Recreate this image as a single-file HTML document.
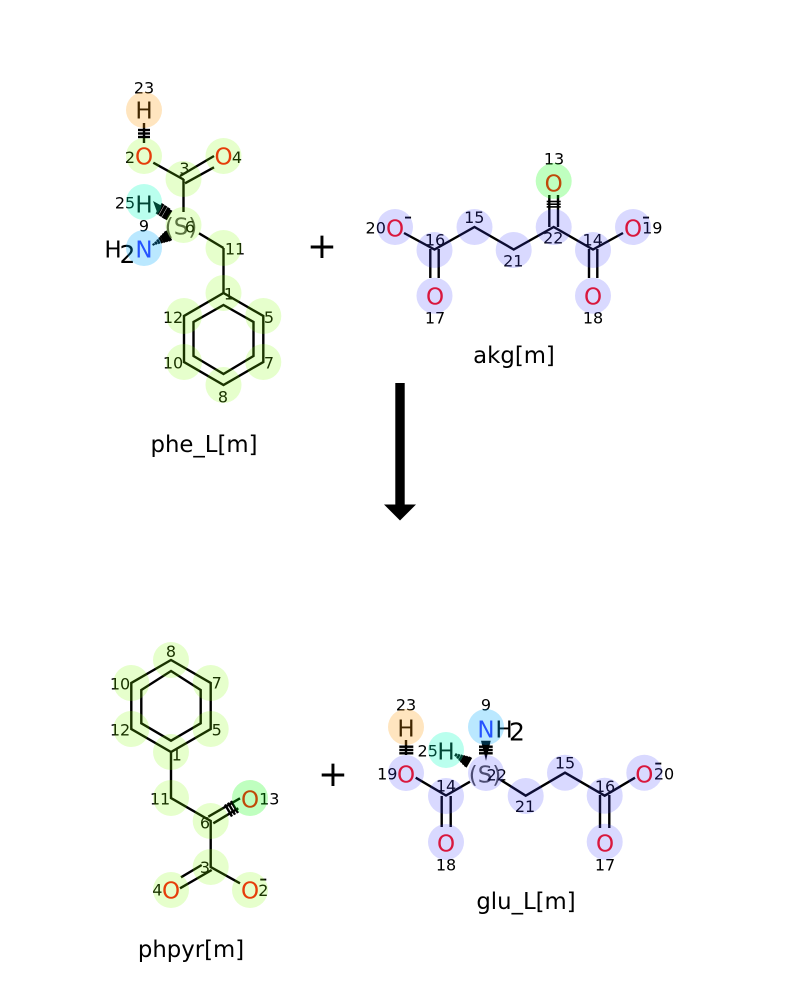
<!DOCTYPE html>
<html>
<head>
<meta charset="utf-8">
<style>
html,body{margin:0;padding:0;background:#fff;}
svg{display:block;}
text{font-family:"DejaVu Sans",sans-serif;}
.b line,.b polyline,.b polygon{stroke:#000;stroke-width:2.4;fill:none;stroke-linejoin:miter;}
.b .h line{stroke-width:3.2;}
.b .f line{stroke-width:1.6;}
.n{font-size:16px;text-anchor:middle;fill:#000;}
.a{font-size:23px;text-anchor:middle;}
.o{fill:#ff0d0d;}
.bl{fill:#3333ff;}
.k{fill:#000;}
.s{fill:#505050;}
.t{font-size:22.8px;text-anchor:middle;fill:#000;}
.y circle{fill:#80ff00;opacity:.2;}
.p circle{fill:#4040ff;opacity:.2;}
</style>
</head>
<body>
<svg width="800" height="1000" viewBox="0 0 800 1000" xmlns="http://www.w3.org/2000/svg">
<rect width="800" height="1000" fill="#fff"/>
<g class="b">
<!-- phe -->
<line x1="144" y1="123" x2="144" y2="143"/>
<line x1="138" y1="130" x2="150" y2="130"/><line x1="138" y1="133.5" x2="150" y2="133.5"/><line x1="138" y1="137" x2="150" y2="137"/>
<line x1="153.3" y1="162.7" x2="183.5" y2="179.5"/>
<line x1="180" y1="176" x2="214" y2="156"/><line x1="185" y1="183.3" x2="214" y2="167.3"/>
<line x1="183.5" y1="179" x2="183.5" y2="212"/>
<line x1="199" y1="233.3" x2="223.5" y2="248"/>
<line x1="223.5" y1="248" x2="223.5" y2="293"/>
<polygon points="223.5,293 263.3,316 263.3,362 223.5,385 184,362 184,316"/>
<polygon points="223.5,305 253.5,322 253.5,356 223.5,374 193.5,356 193.5,322"/>
<polygon points="153,201 162,206 157,212" style="fill:#000;stroke:none"/>
<g class="h">
<line x1="157" y1="214.2" x2="163" y2="203.8"/><line x1="160" y1="216.2" x2="166" y2="205.8"/><line x1="163" y1="218.2" x2="169" y2="207.8"/><line x1="165.5" y1="219.5" x2="171" y2="210"/>
<line x1="165.2" y1="231.2" x2="170.8" y2="240.8"/>
<line x1="163.2" y1="233.2" x2="168" y2="241.6"/>
<line x1="161.2" y1="235.3" x2="165.2" y2="242.3"/>
</g>
<line x1="159.2" y1="237.4" x2="162.4" y2="243"/>
<line x1="157.2" y1="239.5" x2="159.6" y2="243.7"/>
<line x1="155.2" y1="241.6" x2="156.8" y2="244.4"/>
<line x1="153.1" y1="243.5" x2="154.1" y2="245.3"/>
<!-- akg -->
<polyline points="404,233 434.5,249.5 474.5,227 513.7,249.5 553.7,227 593,249.5 623,233"/>
<line x1="430.3" y1="249" x2="430.3" y2="278"/><line x1="438.7" y1="249" x2="438.7" y2="278"/>
<line x1="589" y1="249" x2="589" y2="278"/><line x1="597.3" y1="249" x2="597.3" y2="278"/>
<line x1="549.3" y1="195" x2="549.3" y2="227"/><line x1="558" y1="195" x2="558" y2="227"/>
<g class="f">
<line x1="546.7" y1="201.5" x2="560.7" y2="201.5"/><line x1="546.7" y1="204.2" x2="560.7" y2="204.2"/><line x1="546.7" y1="206.9" x2="560.7" y2="206.9"/>
</g>
<!-- phpyr -->
<polygon points="171,660 210.7,683 210.7,729 171,752 131.3,729 131.3,683"/>
<polygon points="171,671 200.7,690 200.7,723.3 171,740.7 141.3,723.3 141.3,690"/>
<polyline points="171,752 171,798 210.7,821 210.7,867 240,883.3"/>
<line x1="208.3" y1="816.7" x2="240" y2="798.3"/><line x1="213.3" y1="823.3" x2="238.3" y2="808.3"/>
<line x1="225" y1="804.5" x2="232" y2="816.5"/><line x1="228" y1="802.7" x2="235" y2="814.7"/><line x1="231" y1="801" x2="238" y2="813"/>
<line x1="201.7" y1="865" x2="181" y2="877.3"/><line x1="211.7" y1="870" x2="180" y2="888.3"/>
<!-- glu -->
<polyline points="415.7,777.7 446,795.5 470,781.7"/>
<polyline points="500.7,780 525.7,795.7 565,772.7 604.7,795.7 635,777.7"/>
<line x1="441.7" y1="796" x2="441.7" y2="827"/><line x1="450.7" y1="796" x2="450.7" y2="827"/>
<line x1="600" y1="795" x2="600" y2="828"/><line x1="609.3" y1="795" x2="609.3" y2="828"/>
<line x1="406" y1="740" x2="406" y2="755"/>
<line x1="399.3" y1="746.7" x2="413.3" y2="746.7"/><line x1="399.3" y1="750" x2="413.3" y2="750"/><line x1="399.3" y1="753.3" x2="413.3" y2="753.3"/>
<polygon points="481,740.7 490.7,740.7 486,760.7" style="fill:#000;stroke:none"/>
<line x1="479" y1="746.7" x2="492.7" y2="746.7"/><line x1="479" y1="750" x2="492.7" y2="750"/><line x1="479" y1="753.3" x2="492.7" y2="753.3"/>
<g class="h">
<line x1="470.75" y1="757.2" x2="465.25" y2="766.8"/>
<line x1="468" y1="756.4" x2="463.2" y2="764.8"/>
<line x1="465.2" y1="755.7" x2="461.2" y2="762.7"/>
</g>
<line x1="462.4" y1="755" x2="459.2" y2="760.6"/>
<line x1="459.6" y1="754.3" x2="457.2" y2="758.5"/>
<line x1="456.8" y1="753.6" x2="455.2" y2="756.4"/>
</g>

<!-- Arrow -->
<rect x="395.3" y="383" width="9.4" height="125" fill="#000"/>
<polygon points="384,504.5 416,504.5 400,520.5" fill="#000"/>

<!-- Atoms: phe -->
<text class="a k" x="144" y="118.5">H</text>
<text class="a o" x="144" y="164.5">O</text>
<text class="a o" x="223.5" y="164.5">O</text>
<text class="a k" x="144" y="212.5">H</text>
<text class="a s" x="181" y="234.5">(S)</text>
<text class="a bl" x="144" y="257.5">N</text>
<text class="a k" x="113" y="257.5">H</text>
<text class="a k" x="127.5" y="263" style="font-size:25px">2</text>
<!-- Atoms: akg -->
<text class="a o" x="395" y="236.5">O</text>
<text class="a o" x="435" y="304.5">O</text>
<text class="a o" x="553.7" y="191.5">O</text>
<text class="a o" x="593" y="304.5">O</text>
<text class="a o" x="633" y="236.5">O</text>
<text class="a k" x="408" y="224">-</text>
<text class="a k" x="646" y="224">-</text>
<!-- Atoms: phpyr -->
<text class="a o" x="250" y="807.5">O</text>
<text class="a o" x="171" y="898.5">O</text>
<text class="a o" x="250" y="898.5">O</text>
<text class="a k" x="263.3" y="886">-</text>
<!-- Atoms: glu -->
<text class="a k" x="406" y="736.5">H</text>
<text class="a o" x="406" y="782.5">O</text>
<text class="a o" x="446" y="851.5">O</text>
<text class="a k" x="446" y="759.5">H</text>
<text class="a s" x="485" y="782.5">(S)</text>
<text class="a bl" x="486" y="737.5">N</text>
<text class="a k" x="504" y="737.5">H</text>
<text class="a k" x="517" y="740.5" style="font-size:25px">2</text>
<text class="a o" x="605" y="851.5">O</text>
<text class="a o" x="644.3" y="782.5">O</text>
<text class="a k" x="658.3" y="770">-</text>

<!-- Numbers -->
<g class="n">
<text x="144" y="93.5">23</text><text x="130" y="163">2</text><text x="237" y="163">4</text><text x="184.5" y="174">3</text><text x="190" y="232.5">6</text><text x="125" y="208.5">25</text><text x="144" y="231.5">9</text><text x="235" y="254.5">11</text><text x="229" y="299.5">1</text><text x="173" y="323">12</text><text x="269" y="323">5</text><text x="173" y="368.5">10</text><text x="269" y="368.5">7</text><text x="223" y="402.5">8</text>
<text x="375.7" y="233.5">20</text><text x="435" y="245.5">16</text><text x="474.3" y="223">15</text><text x="513.3" y="266.5">21</text><text x="553.3" y="243.5">22</text><text x="592.7" y="245.5">14</text><text x="652.3" y="233.5">19</text><text x="554" y="164.5">13</text><text x="435" y="323.5">17</text><text x="593" y="323.5">18</text>
<text x="171" y="657">8</text><text x="120" y="689.5">10</text><text x="216.7" y="688.5">7</text><text x="120" y="735.5">12</text><text x="216.7" y="735.5">5</text><text x="176.7" y="760.5">1</text><text x="160" y="804.5">11</text><text x="205" y="828.5">6</text><text x="269.3" y="804.5">13</text><text x="205" y="873">3</text><text x="157.3" y="895.5">4</text><text x="263.3" y="896">2</text>
<text x="406" y="710.5">23</text><text x="387.3" y="779.5">19</text><text x="427.7" y="756.5">25</text><text x="486" y="710.5">9</text><text x="446" y="791.5">14</text><text x="446" y="870.5">18</text><text x="496.7" y="780.5">22</text><text x="525" y="812">21</text><text x="565" y="768.5">15</text><text x="605" y="792">16</text><text x="605" y="870.5">17</text><text x="664" y="779.5">20</text>
</g>

<!-- Highlights on top -->
<g class="y">
<circle cx="144" cy="156" r="18"/><circle cx="223.5" cy="156" r="18"/><circle cx="183.5" cy="179" r="18"/><circle cx="183.5" cy="225" r="18"/><circle cx="223.5" cy="248" r="18"/><circle cx="223.5" cy="293" r="18"/><circle cx="263.3" cy="316" r="18"/><circle cx="263.3" cy="362" r="18"/><circle cx="223.5" cy="385" r="18"/><circle cx="184" cy="362" r="18"/><circle cx="184" cy="316" r="18"/>
<circle cx="171" cy="660" r="18"/><circle cx="131.3" cy="683" r="18"/><circle cx="210.7" cy="683" r="18"/><circle cx="131.3" cy="729" r="18"/><circle cx="210.7" cy="729" r="18"/><circle cx="171" cy="752" r="18"/><circle cx="171" cy="798" r="18"/><circle cx="210.7" cy="821" r="18"/><circle cx="210.7" cy="867" r="18"/><circle cx="171" cy="890" r="18"/><circle cx="250" cy="890" r="18"/>
</g>
<g class="p">
<circle cx="395" cy="227" r="18"/><circle cx="434.5" cy="250" r="18"/><circle cx="474.5" cy="227" r="18"/><circle cx="513.7" cy="250" r="18"/><circle cx="553.7" cy="227" r="18"/><circle cx="593" cy="250" r="18"/><circle cx="633" cy="227" r="18"/><circle cx="434.5" cy="295.7" r="18"/><circle cx="593" cy="295.7" r="18"/>
<circle cx="406" cy="773" r="18"/><circle cx="446" cy="796" r="18"/><circle cx="446" cy="842" r="18"/><circle cx="486" cy="773" r="18"/><circle cx="525.7" cy="796" r="18"/><circle cx="565" cy="772.7" r="18"/><circle cx="604.7" cy="795.7" r="18"/><circle cx="604.7" cy="841.7" r="18"/><circle cx="644.3" cy="772.7" r="18"/>
</g>
<circle cx="553.7" cy="181" r="18" fill="#00ff00" opacity=".25"/>
<circle cx="250" cy="798" r="18" fill="#00ff00" opacity=".25"/>
<circle cx="144" cy="110" r="18" fill="#ff9900" opacity=".25"/>
<circle cx="406" cy="727" r="18" fill="#ff9900" opacity=".25"/>
<circle cx="144" cy="202" r="18" fill="#00ffc0" opacity=".27"/>
<circle cx="446" cy="750" r="18" fill="#00ffc0" opacity=".27"/>
<circle cx="144" cy="248" r="18" fill="#00aaff" opacity=".27"/>
<circle cx="486" cy="727" r="18" fill="#00aaff" opacity=".27"/>

<!-- Plus and names -->
<text x="322" y="258" style="font-size:36px;text-anchor:middle;fill:#000">+</text>
<text x="333" y="786" style="font-size:36px;text-anchor:middle;fill:#000">+</text>
<text class="t" x="204" y="452">phe_L[m]</text>
<text class="t" x="514" y="363">akg[m]</text>
<text class="t" x="191" y="957">phpyr[m]</text>
<text class="t" x="526" y="909">glu_L[m]</text>
</svg>
</body>
</html>
